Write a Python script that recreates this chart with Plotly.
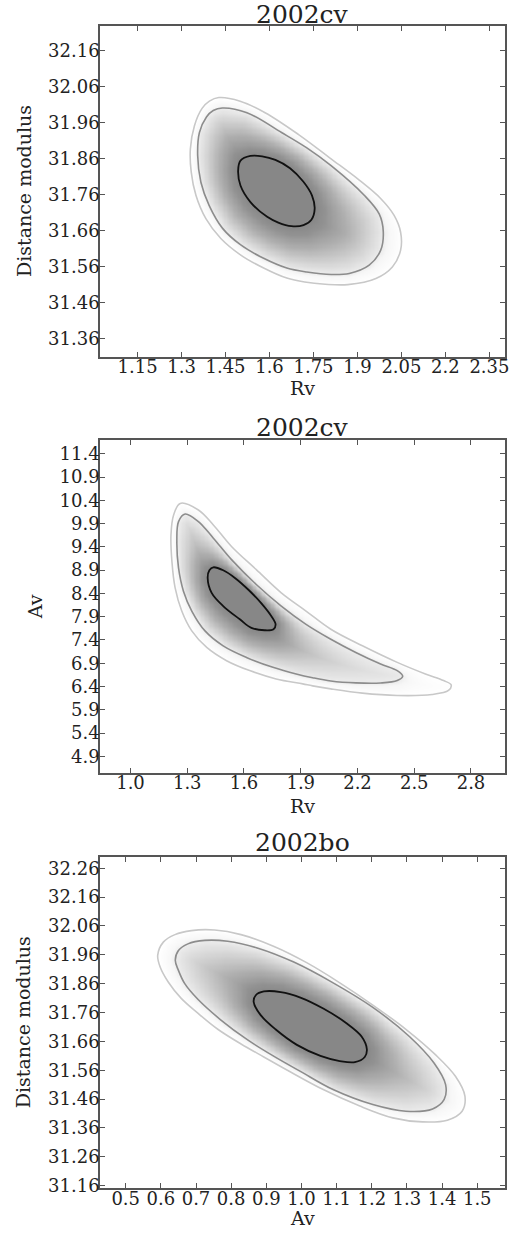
import numpy as np
import plotly.graph_objects as go

# ---------------- data ----------------
titles = ["2002cv", "2002cv", "2002bo"]
x_titles = ["Rv", "Rv", "Av"]
y_titles = ["Distance modulus", "Av", "Distance modulus"]

# panel 1 : Rv vs distance modulus (2002cv)
p1_x_ticks = [1.15, 1.3, 1.45, 1.6, 1.75, 1.9, 2.05, 2.2, 2.35]
p1_x_labels = ["1.15", "1.3", "1.45", "1.6", "1.75", "1.9", "2.05", "2.2", "2.35"]
p1_y_ticks = [31.36, 31.46, 31.56, 31.66, 31.76, 31.86, 31.96, 32.06, 32.16]
p1_y_labels = ["31.36", "31.46", "31.56", "31.66", "31.76", "31.86", "31.96", "32.06", "32.16"]
p1_x_range = [1.022, 2.402]
p1_y_range = [31.31, 32.228]

p1_outer_x = [1.427, 1.500, 1.585, 1.698, 1.810, 1.906, 1.979, 2.025, 2.047, 2.047, 2.019, 1.963,
              1.867, 1.790, 1.720, 1.659, 1.580, 1.502, 1.434, 1.383, 1.349, 1.333, 1.330, 1.344, 1.370, 1.395]
p1_outer_y = [32.029, 32.019, 31.987, 31.927, 31.859, 31.800, 31.749, 31.702, 31.656, 31.605, 31.559, 31.527,
              31.510, 31.511, 31.517, 31.528, 31.556, 31.592, 31.638, 31.693, 31.758, 31.822, 31.886, 31.951,
              31.999, 32.019]
p1_mid_x = [1.439, 1.523, 1.641, 1.726, 1.810, 1.923, 1.974, 1.988, 1.979, 1.940, 1.872, 1.810,
            1.727, 1.659, 1.580, 1.502, 1.440, 1.394, 1.366, 1.355, 1.361, 1.385, 1.408]
p1_mid_y = [32.000, 31.987, 31.932, 31.890, 31.840, 31.758, 31.706, 31.657, 31.605, 31.564, 31.541, 31.538,
            31.545, 31.556, 31.583, 31.620, 31.666, 31.730, 31.794, 31.868, 31.932, 31.975, 31.993]
p1_in_x = [1.501, 1.535, 1.575, 1.620, 1.670, 1.715, 1.745, 1.754, 1.743, 1.716, 1.675, 1.630,
           1.592, 1.535, 1.501, 1.493]
p1_in_y = [31.854, 31.867, 31.866, 31.856, 31.833, 31.796, 31.757, 31.720, 31.690, 31.675, 31.672, 31.682,
           31.698, 31.739, 31.785, 31.827]

# panel 2 : Rv vs Av (2002cv)
p2_x_ticks = [1.0, 1.3, 1.6, 1.9, 2.2, 2.5, 2.8]
p2_x_labels = ["1.0", "1.3", "1.6", "1.9", "2.2", "2.5", "2.8"]
p2_y_ticks = [4.9, 5.4, 5.9, 6.4, 6.9, 7.4, 7.9, 8.4, 8.9, 9.4, 9.9, 10.4, 10.9, 11.4]
p2_y_labels = ["4.9", "5.4", "5.9", "6.4", "6.9", "7.4", "7.9", "8.4", "8.9", "9.4", "9.9", "10.4", "10.9", "11.4"]
p2_x_range = [0.839, 2.978]
p2_y_range = [4.55, 11.686]

p2_outer_x = [1.263, 1.359, 1.438, 1.534, 1.665, 1.797, 1.928, 2.059, 2.226, 2.410, 2.559, 2.655, 2.695, 2.681,
              2.594, 2.410, 2.226, 2.059, 1.963, 1.911, 1.770, 1.630, 1.508, 1.403, 1.324, 1.271, 1.236, 1.219,
              1.214, 1.228]
p2_outer_y = [10.334, 10.191, 9.871, 9.409, 8.911, 8.413, 8.022, 7.631, 7.275, 6.919, 6.670, 6.528, 6.436, 6.315,
              6.229, 6.208, 6.258, 6.350, 6.415, 6.457, 6.564, 6.742, 6.955, 7.239, 7.595, 8.022, 8.520, 9.089,
              9.658, 10.085]
p2_mid_x = [1.289, 1.359, 1.438, 1.534, 1.665, 1.797, 1.928, 2.059, 2.191, 2.322, 2.410, 2.439, 2.410, 2.322,
            2.191, 2.059, 1.963, 1.876, 1.753, 1.613, 1.490, 1.394, 1.324, 1.280, 1.254, 1.245, 1.254]
p2_mid_y = [10.106, 9.943, 9.587, 9.125, 8.591, 8.129, 7.737, 7.417, 7.133, 6.884, 6.741, 6.620, 6.528, 6.476,
            6.478, 6.520, 6.590, 6.670, 6.813, 7.026, 7.275, 7.595, 8.022, 8.449, 8.947, 9.516, 9.943]
p2_in_x = [1.438, 1.490, 1.552, 1.622, 1.692, 1.744, 1.767, 1.756, 1.709, 1.639, 1.578, 1.490, 1.429, 1.408, 1.417]
p2_in_y = [8.961, 8.897, 8.733, 8.484, 8.186, 7.915, 7.737, 7.631, 7.609, 7.660, 7.844, 8.129, 8.413, 8.733, 8.897]

# panel 3 : Av vs distance modulus (2002bo)
p3_x_ticks = [0.5, 0.6, 0.7, 0.8, 0.9, 1.0, 1.1, 1.2, 1.3, 1.4, 1.5]
p3_x_labels = ["0.5", "0.6", "0.7", "0.8", "0.9", "1.0", "1.1", "1.2", "1.3", "1.4", "1.5"]
p3_y_ticks = [31.16, 31.26, 31.36, 31.46, 31.56, 31.66, 31.76, 31.86, 31.96, 32.06, 32.16, 32.26]
p3_y_labels = ["31.16", "31.26", "31.36", "31.46", "31.56", "31.66", "31.76", "31.86", "31.96", "32.06", "32.16", "32.26"]
p3_x_range = [0.427, 1.578]
p3_y_range = [31.151, 32.300]

p3_outer_x = [0.607, 0.640, 0.687, 0.753, 0.828, 0.922, 1.016, 1.109, 1.203, 1.297, 1.381, 1.438,
              1.465, 1.457, 1.415, 1.344, 1.260, 1.166, 1.062, 0.960, 0.893, 0.828, 0.762, 0.706, 0.658,
              0.621, 0.598, 0.591]
p3_outer_y = [32.004, 32.030, 32.044, 32.046, 32.030, 31.989, 31.932, 31.863, 31.786, 31.702, 31.614,
              31.539, 31.470, 31.418, 31.387, 31.381, 31.395, 31.436, 31.493, 31.560, 31.606, 31.651, 31.702,
              31.757, 31.809, 31.866, 31.918, 31.958]
p3_mid_x = [0.677, 0.725, 0.790, 0.874, 0.978, 1.090, 1.203, 1.307, 1.377, 1.410, 1.406,
            1.373, 1.297, 1.203, 1.090, 0.997, 0.922, 0.847, 0.771, 0.706, 0.668, 0.650, 0.641, 0.650]
p3_mid_y = [31.998, 32.010, 32.007, 31.984, 31.935, 31.863, 31.778, 31.677, 31.585, 31.510, 31.459,
            31.426, 31.418, 31.441, 31.493, 31.556, 31.608, 31.665, 31.734, 31.805, 31.860, 31.906, 31.941, 31.975]
p3_in_x = [0.864, 0.870, 0.893, 0.941, 0.997, 1.062, 1.128, 1.171, 1.186, 1.180, 1.152, 1.109, 1.054,
           0.987, 0.926, 0.884]
p3_in_y = [31.797, 31.820, 31.833, 31.831, 31.812, 31.774, 31.723, 31.677, 31.633, 31.606, 31.588, 31.592,
           31.610, 31.648, 31.702, 31.751]

panels = [
    dict(xt=p1_x_ticks, xl=p1_x_labels, yt=p1_y_ticks, yl=p1_y_labels, xr=p1_x_range, yr=p1_y_range,
         c=[(p1_outer_x, p1_outer_y), (p1_mid_x, p1_mid_y), (p1_in_x, p1_in_y)]),
    dict(xt=p2_x_ticks, xl=p2_x_labels, yt=p2_y_ticks, yl=p2_y_labels, xr=p2_x_range, yr=p2_y_range,
         c=[(p2_outer_x, p2_outer_y), (p2_mid_x, p2_mid_y), (p2_in_x, p2_in_y)]),
    dict(xt=p3_x_ticks, xl=p3_x_labels, yt=p3_y_ticks, yl=p3_y_labels, xr=p3_x_range, yr=p3_y_range,
         c=[(p3_outer_x, p3_outer_y), (p3_mid_x, p3_mid_y), (p3_in_x, p3_in_y)]),
]

# ---------------- layout geometry ----------------
W, H = 526, 1237
plot_left, plot_right = 101, 509.5
plot_tops = [26, 443.3, 862.3]
plot_bottoms = [359, 777.7, 1196]
line_colors = ["#c8c8c8", "#8c8c8c", "#111111"]
line_widths = [1.6, 1.6, 1.8]
FONT = "DejaVu Serif"


def inside(px, py, xs, ys):
    res = np.zeros(px.shape, dtype=bool)
    n = len(xs)
    j = n - 1
    for i in range(n):
        xi, yi, xj, yj = xs[i], ys[i], xs[j], ys[j]
        cond = ((yi > py) != (yj > py)) & (px < (xj - xi) * (py - yi) / (yj - yi + 1e-12) + xi)
        res ^= cond
        j = i
    return res


def dist(px, py, xs, ys):
    d = np.full(px.shape, np.inf)
    n = len(xs)
    for i in range(n):
        ax, ay = xs[i], ys[i]
        bx, by = xs[(i + 1) % n], ys[(i + 1) % n]
        vx, vy = bx - ax, by - ay
        t = ((px - ax) * vx + (py - ay) * vy) / (vx * vx + vy * vy + 1e-12)
        t = np.clip(t, 0, 1)
        dd = np.hypot(px - (ax + t * vx), py - (ay + t * vy))
        d = np.minimum(d, dd)
    return d


fig = go.Figure()
layout_axes = {}
for k, p in enumerate(panels):
    idx = "" if k == 0 else str(k + 1)
    xr, yr = p["xr"], p["yr"]
    wpx = plot_right - plot_left
    hpx = plot_bottoms[k] - plot_tops[k]
    sx = wpx / (xr[1] - xr[0])
    sy = hpx / (yr[1] - yr[0])

    # shading field derived from the three contours
    gx = np.linspace(xr[0], xr[1], 320)
    gy = np.linspace(yr[0], yr[1], 280)
    GX, GY = np.meshgrid(gx, gy)
    PX, PY = GX * sx, GY * sy
    polys = [(np.array(cx) * sx, np.array(cy) * sy) for cx, cy in p["c"]]
    ins = [inside(PX, PY, px_, py_) for px_, py_ in polys]
    ds = [dist(PX, PY, px_, py_) for px_, py_ in polys]
    f = np.full(PX.shape, np.nan)
    f[ins[2]] = 0.0
    ring1 = ins[1] & ~ins[2]
    f[ring1] = (ds[2] / (ds[2] + ds[1]))[ring1]
    ring2 = ins[0] & ~ins[1]
    f[ring2] = (1.0 + ds[1] / (ds[1] + ds[0]))[ring2]

    fig.add_trace(go.Heatmap(
        x=gx, y=gy, z=f, zmin=0, zmax=2, zsmooth="best", showscale=False, hoverinfo="skip",
        colorscale=[[0.0, "#878787"], [0.1, "#929292"], [0.25, "#afafaf"], [0.4, "#d4d4d4"],
                    [0.5, "#ececec"], [0.65, "#f7f7f7"], [1.0, "#ffffff"]],
        xaxis="x" + idx, yaxis="y" + idx))

    for (cx, cy), col, lw in zip(p["c"], line_colors, line_widths):
        fig.add_trace(go.Scatter(
            x=list(cx) + [cx[0]], y=list(cy) + [cy[0]], mode="lines",
            line=dict(color=col, width=lw, shape="spline", smoothing=1.0),
            hoverinfo="skip", showlegend=False, xaxis="x" + idx, yaxis="y" + idx))

    common = dict(showgrid=False, zeroline=False, showline=True, linecolor="#555555", linewidth=1.6,
                  mirror="allticks", ticks="inside", ticklen=5, tickwidth=1, tickcolor="#555555",
                  tickfont=dict(family=FONT, size=18, color="#222222"), tickangle=0, fixedrange=True,
                  tickmode="array")
    layout_axes["xaxis" + idx] = dict(common, domain=[plot_left / W, plot_right / W], range=xr,
                                      tickvals=p["xt"], ticktext=p["xl"], anchor="y" + idx,
                                      ticklabelstandoff=-7)
    layout_axes["yaxis" + idx] = dict(common, domain=[1 - plot_bottoms[k] / H, 1 - plot_tops[k] / H],
                                      range=yr, tickvals=p["yt"], ticktext=p["yl"], anchor="x" + idx,
                                      ticklabelstandoff=-5)

annotations = []
title_y = [15, 430, 848]
xtitle_y = [391, 811, 1226]
ytitle_x = [24, 35, 24]
for k in range(3):
    cy = (plot_tops[k] + plot_bottoms[k]) / 2
    annotations.append(dict(text=titles[k], x=305 / W, y=1 - title_y[k] / H, xref="paper", yref="paper",
                            xanchor="center", yanchor="middle", showarrow=False,
                            font=dict(family=FONT, size=25, color="#222222")))
    annotations.append(dict(text=x_titles[k], x=305 / W, y=1 - xtitle_y[k] / H, xref="paper", yref="paper",
                            xanchor="center", yanchor="middle", showarrow=False,
                            font=dict(family=FONT, size=19, color="#222222")))
    annotations.append(dict(text=y_titles[k], x=ytitle_x[k] / W, y=1 - cy / H, xref="paper", yref="paper",
                            xanchor="center", yanchor="middle", showarrow=False, textangle=-90,
                            font=dict(family=FONT, size=19, color="#222222")))

fig.update_layout(width=W, height=H, margin=dict(l=0, r=0, t=0, b=0), paper_bgcolor="white",
                  plot_bgcolor="white", showlegend=False, annotations=annotations, **layout_axes)

fig.write_html("out.html")
